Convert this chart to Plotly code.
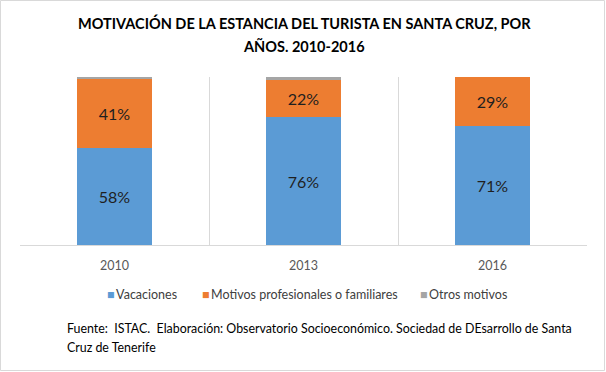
import plotly.graph_objects as go

years = ["2010", "2013", "2016"]
vacaciones = [58, 76, 71]
motivos = [41, 22, 29]
otros = [1, 2, 0]

series_names = ["Vacaciones", "Motivos profesionales o familiares", "Otros motivos"]
colors = ["#5B9BD5", "#ED7D31", "#A5A5A5"]

FONT = "Lato"

fig = go.Figure()
for name, vals, col, show in zip(series_names, [vacaciones, motivos, otros], colors, [True, True, False]):
    fig.add_trace(go.Bar(
        x=years, y=vals, name=name, marker=dict(color=col, line=dict(width=0)),
        text=[f"{v}%" for v in vals] if show else None,
        textposition="inside" if show else "none",
        insidetextanchor="middle",
        textfont=dict(family=FONT, size=16, color="#1f1f1f"),
        hoverinfo="skip",
    ))

W, H = 606, 372
L, R, T, B = 20, 19, 77, 127
pw, ph = W - L - R, H - T - B

def px(x):
    return (x - L) / pw

def py(y):
    return (H - B - y) / ph

annotations = [
    dict(text="<b>MOTIVACIÓN DE LA ESTANCIA DEL TURISTA EN SANTA CRUZ, POR</b>", x=px(304), y=py(23),
         xref="paper", yref="paper", showarrow=False, xanchor="center", yanchor="middle",
         font=dict(family=FONT, size=14.5, color="#000000")),
    dict(text="<b>AÑOS. 2010-2016</b>", x=px(304), y=py(46),
         xref="paper", yref="paper", showarrow=False, xanchor="center", yanchor="middle",
         font=dict(family=FONT, size=14.5, color="#000000")),
    dict(text="Fuente:  ISTAC.  Elaboración: Observatorio Socioeconómico. Sociedad de DEsarrollo de Santa",
         x=px(65), y=py(328), xref="paper", yref="paper", showarrow=False, xanchor="left", yanchor="middle",
         font=dict(family=FONT, size=12.4, color="#000000")),
    dict(text="Cruz de Tenerife",
         x=px(65), y=py(347), xref="paper", yref="paper", showarrow=False, xanchor="left", yanchor="middle",
         font=dict(family=FONT, size=12.4, color="#000000")),
]

legend_x = [105, 200, 418]
for name, col, lx in zip(series_names, colors, legend_x):
    annotations.append(dict(
        text=f"<span style='color:{col}'>■</span>\u2009{name}",
        x=px(lx), y=py(294), xref="paper", yref="paper", showarrow=False,
        xanchor="left", yanchor="middle",
        font=dict(family=FONT, size=12.5, color="#404040")))

shapes = [
    dict(type="rect", xref="paper", yref="paper", x0=px(0.5), x1=px(W - 1.5), y0=py(H - 1.5), y1=py(0.5),
         line=dict(color="#D9D9D9", width=1), fillcolor="rgba(0,0,0,0)", layer="below"),
]

fig.update_layout(
    width=W, height=H,
    margin=dict(l=L, r=R, t=T, b=B),
    barmode="stack", bargap=0.6,
    paper_bgcolor="white", plot_bgcolor="white",
    font=dict(family=FONT, size=12, color="#595959"),
    showlegend=False,
    annotations=annotations,
    shapes=shapes,
)
fig.update_xaxes(showgrid=True, gridcolor="#D9D9D9", tickson="boundaries", ticks="",
                 showline=True, linecolor="#D9D9D9", linewidth=1, ticklabelstandoff=9,
                 tickfont=dict(family=FONT, size=12.5, color="#595959"), fixedrange=True)
fig.update_yaxes(range=[0, 100], showgrid=False, showticklabels=False, zeroline=False, fixedrange=True)

fig.write_html("out.html", config={"displayModeBar": False},
               post_script="document.body.style.margin='0';document.body.style.padding='0';")
